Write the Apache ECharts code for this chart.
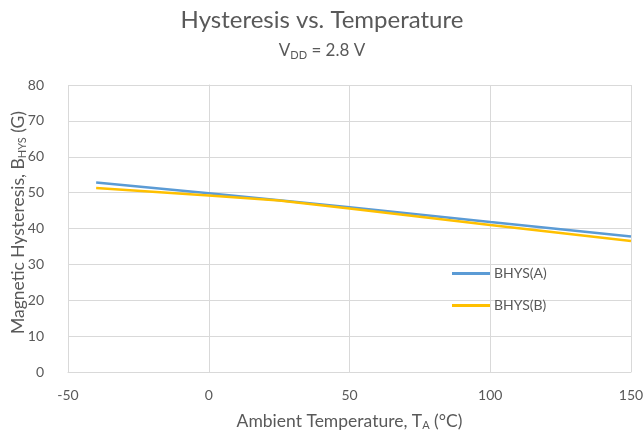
<!DOCTYPE html>
<html>
<head>
<meta charset="utf-8">
<title>Hysteresis vs. Temperature</title>
<script src="https://cdn.jsdelivr.net/npm/echarts@6/dist/echarts.min.js"></script>
<style>
  html, body { margin: 0; padding: 0; background: #fff; }
  #main { width: 644px; height: 435px; }
</style>
</head>
<body>
<div id="main"></div>
<script>
// temperatures (°C) and hysteresis values (G)
var temps = [-40, 0, 25, 50, 100, 150];
var bhysA = [52.8, 49.8, 47.9, 45.9, 41.8, 37.8];
var bhysB = [51.3, 49.2, 47.8, 45.6, 41.0, 36.5];
var seriesNames = ['BHYS(A)', 'BHYS(B)'];

function pairs(xs, ys) {
  var out = [];
  for (var i = 0; i < xs.length; i++) out.push([xs[i], ys[i]]);
  return out;
}

var font = 'Lato, "Open Sans", sans-serif';
var txt = '#595959';
var gridCol = '#D9D9D9';

var myChart = echarts.init(document.getElementById('main'));
myChart.setOption({
  animation: false,
  title: [{
    text: 'Hysteresis vs. Temperature',
    left: 'center', top: 3,
    textStyle: { fontFamily: font, fontSize: 24, fontWeight: 'normal', color: txt }
  }, {
    text: 'V{sub|DD} = 2.8 V',
    left: 'center', top: 35,
    textStyle: {
      fontFamily: font, fontSize: 17, fontWeight: 'normal', color: txt,
      rich: { sub: { fontFamily: font, fontSize: 11, color: txt, verticalAlign: 'bottom', padding: [10, 0, 0, 0] } }
    }
  }],
  grid: { left: 68, right: 13, top: 85, bottom: 63, outerBoundsMode: 'none', containLabel: false },
  legend: {
    data: seriesNames,
    orient: 'vertical',
    left: 447, top: 261,
    icon: 'rect',
    itemWidth: 38, itemHeight: 3,
    itemGap: 17,
    textStyle: { fontFamily: font, fontSize: 14, color: txt, lineHeight: 15, padding: [0, 0, 0, -1] }
  },
  xAxis: {
    type: 'value', min: -50, max: 150, interval: 50,
    name: 'Ambient Temperature, T{sub|A} (°C)',
    nameLocation: 'middle', nameGap: 40, nameMoveOverlap: false,
    nameTextStyle: {
      fontFamily: font, fontSize: 17.5, color: txt,
      rich: { sub: { fontFamily: font, fontSize: 11, color: txt, verticalAlign: 'bottom', padding: [8, 0, 0, 0] } }
    },
    axisLine: { show: true, lineStyle: { color: gridCol, width: 1 } },
    axisTick: { show: false },
    axisLabel: { fontFamily: font, fontSize: 14, color: txt, margin: 16 },
    splitLine: { show: true, lineStyle: { color: gridCol, width: 1 } }
  },
  yAxis: {
    type: 'value', min: 0, max: 80, interval: 10,
    name: 'Magnetic Hysteresis, B{sub|HYS} (G)',
    nameLocation: 'middle', nameGap: 40, nameRotate: 90, nameMoveOverlap: false,
    nameTextStyle: {
      fontFamily: font, fontSize: 17.5, color: txt, padding: [0, 0, 0, 12],
      rich: { sub: { fontFamily: font, fontSize: 11, color: txt, verticalAlign: 'bottom', padding: [8, 0, 0, 0] } }
    },
    axisLine: { show: true, lineStyle: { color: gridCol, width: 1 } },
    axisTick: { show: false },
    axisLabel: { fontFamily: font, fontSize: 14, color: txt, margin: 24 },
    splitLine: { show: true, lineStyle: { color: gridCol, width: 1 } }
  },
  series: [{
    name: seriesNames[0], type: 'line',
    data: pairs(temps, bhysA),
    symbol: 'none',
    lineStyle: { color: '#5B9BD5', width: 2.5 },
    itemStyle: { color: '#5B9BD5' }
  }, {
    name: seriesNames[1], type: 'line',
    data: pairs(temps, bhysB),
    symbol: 'none',
    lineStyle: { color: '#FFC000', width: 2.5 },
    itemStyle: { color: '#FFC000' }
  }]
});
</script>
</body>
</html>
